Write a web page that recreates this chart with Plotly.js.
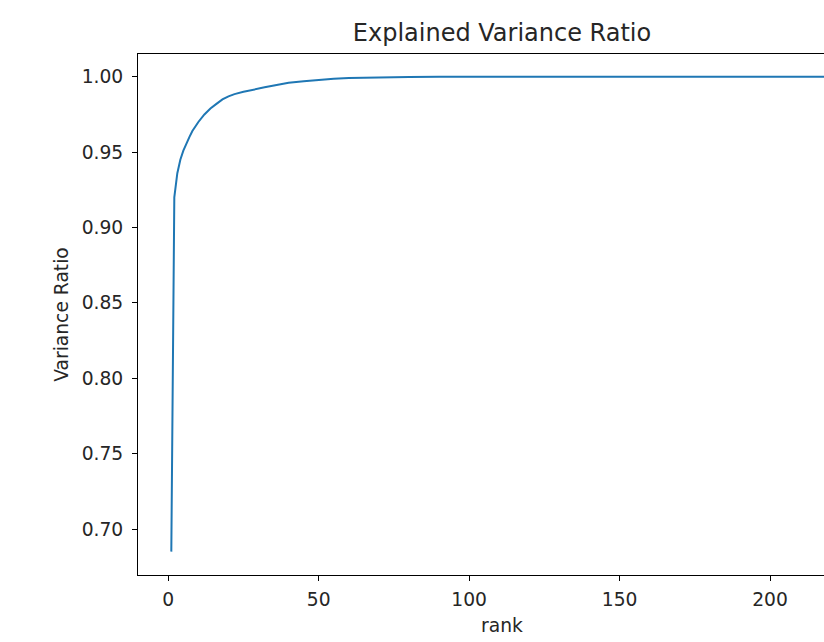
<!DOCTYPE html>
<html>
<head>
<meta charset="utf-8">
<script src="https://cdn.plot.ly/plotly-3.0.1.min.js"></script>
<style>
  html, body { margin: 0; padding: 0; background: #fff; overflow: hidden; width: 824px; height: 642px; }
  #chart { width: 880px; height: 642px; }
</style>
</head>
<body>
<div id="chart"></div>
<script>
// Data
const ranks = [1, 2, 3, 4, 5, 6, 7, 8, 9, 10, 12, 14, 16, 18, 20, 22, 25, 28, 32, 36, 40, 45, 50, 55, 60, 70, 80, 90, 100, 120, 150, 180, 221];
const varianceRatio = [0.685, 0.920, 0.936, 0.945, 0.951, 0.956, 0.960, 0.964, 0.967, 0.970, 0.975, 0.979, 0.982, 0.985, 0.987, 0.9885, 0.990, 0.9915, 0.993, 0.9945, 0.996, 0.997, 0.998, 0.9987, 0.9992, 0.9997, 0.9999, 1.0, 1.0, 1.0, 1.0, 1.0, 1.0];
const xTicks = [0, 50, 100, 150, 200];
const yTicks = [0.70, 0.75, 0.80, 0.85, 0.90, 0.95, 1.00];
const yTickLabels = ["0.70", "0.75", "0.80", "0.85", "0.90", "0.95", "1.00"];

const FONT = "DejaVu Sans, sans-serif";
const TXT = "#262626";

const trace = {
  x: ranks,
  y: varianceRatio,
  type: "scatter",
  mode: "lines",
  line: { color: "#1f77b4", width: 2 },
  hoverinfo: "x+y"
};

const axisCommon = {
  showgrid: false,
  zeroline: false,
  showline: true,
  linecolor: "#000",
  linewidth: 1,
  mirror: true,
  ticks: "outside",
  ticklen: 5,
  tickwidth: 1,
  tickcolor: "#000",
  tickfont: { family: FONT, size: 18.7, color: TXT },
  automargin: false
};

const layout = {
  width: 880,
  height: 642,
  margin: { l: 138, r: 14, t: 54, b: 67 },
  paper_bgcolor: "#fff",
  plot_bgcolor: "#fff",
  showlegend: false,
  title: {
    text: "Explained Variance Ratio",
    font: { family: FONT, size: 24, color: TXT },
    x: 0.5, xref: "paper", xanchor: "center",
    y: 1 - 33 / 642, yref: "container", yanchor: "middle"
  },
  xaxis: Object.assign({}, axisCommon, {
    range: [-10.07, 231.9],
    tickmode: "array",
    tickvals: xTicks,
    ticktext: xTicks.map(String),
    ticklabelstandoff: 3,
    title: { text: "rank", font: { family: FONT, size: 18.7, color: TXT }, standoff: 9 }
  }),
  yaxis: Object.assign({}, axisCommon, {
    range: [0.6695, 1.0151],
    tickmode: "array",
    tickvals: yTicks,
    ticktext: yTickLabels,
    ticklabelstandoff: 5,
    title: { text: "Variance Ratio", font: { family: FONT, size: 18.7, color: TXT }, standoff: 8 }
  })
};

Plotly.newPlot("chart", [trace], layout, { displayModeBar: false, staticPlot: false });
</script>
</body>
</html>
